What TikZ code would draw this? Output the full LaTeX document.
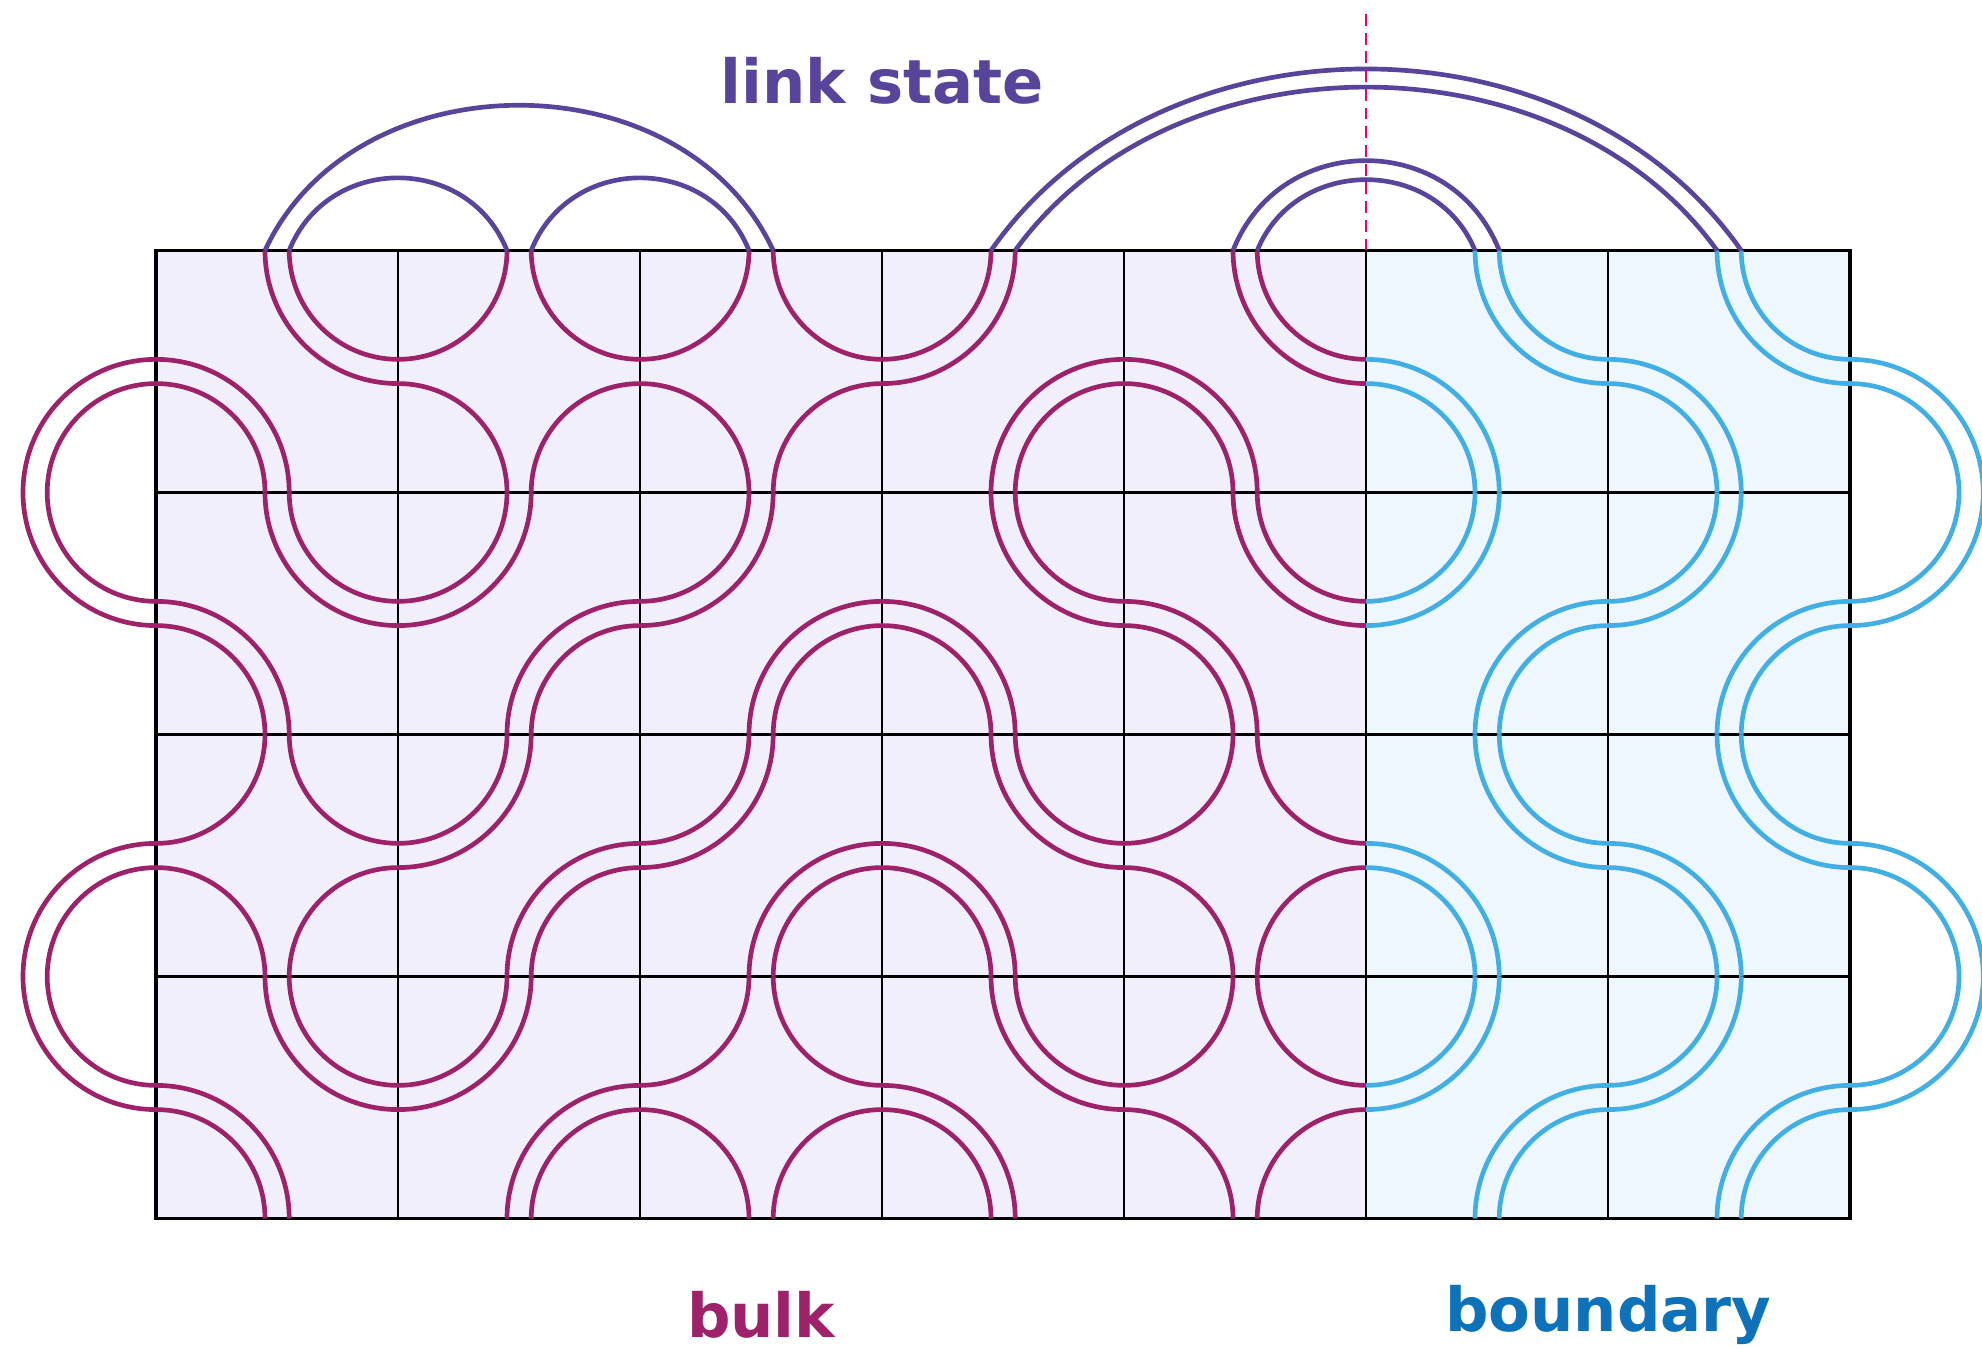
\documentclass[tikz,border=0pt]{standalone}
\usepackage{fontspec}
\usepackage{tikz}
\newfontfamily\lblfont{DejaVu Sans}
\definecolor{bulkink} {HTML}{9E226A}
\definecolor{bndink}  {HTML}{41AFE3}
\definecolor{linkink} {HTML}{59449B}
\definecolor{bndtext} {HTML}{0D72BA}
\definecolor{seam}    {HTML}{E6007E}
\definecolor{bulkfill}{HTML}{F1EFFB}
\definecolor{bndfill} {HTML}{EEF7FD}
\tikzset{
  % --- strands
  bk/.style   = {draw=bulkink, line width=1.1pt},
  bd/.style   = {draw=bndink, line width=1.1pt},
  lk/.style   = {draw=linkink, line width=1.1pt},
  % --- lattice
  cellline/.style   = {draw=black, line width=0.55pt},
  outerframe/.style = {draw=black, line width=0.8pt},
  seamline/.style   = {draw=seam, line width=0.5pt, dash pattern=on 2.8pt off 1.6pt},
  % --- labels
  lbl/.style  = {font=\lblfont\bfseries\fontsize{14.3}{17}\selectfont, inner sep=0pt},
}
% quarter arcs round a corner (small / big radius)
\newcommand{\sarc}[4]{\draw[#4] (#1,#2) ++(#3:0.9) arc[start angle=#3,delta angle=90,radius=0.9];}
\newcommand{\barc}[4]{\draw[#4] (#1,#2) ++(#3:1.1) arc[start angle=#3,delta angle=90,radius=1.1];}
% tiles: #1,#2 lower left corner, #3 strand style
\newcommand{\tileA}[3]{\sarc{#1}{#2+2}{-90}{#3}\barc{#1}{#2+2}{-90}{#3}\sarc{#1+2}{#2}{90}{#3}\barc{#1+2}{#2}{90}{#3}}
\newcommand{\tileB}[3]{\sarc{#1+2}{#2+2}{180}{#3}\barc{#1+2}{#2+2}{180}{#3}\sarc{#1}{#2}{0}{#3}\barc{#1}{#2}{0}{#3}}
\newcommand{\tileX}[3]{\sarc{#1}{#2+2}{-90}{#3}\sarc{#1+2}{#2+2}{180}{#3}\sarc{#1}{#2}{0}{#3}\sarc{#1+2}{#2}{90}{#3}}

\begin{document}
\begin{tikzpicture}
  \useasboundingbox (-1.29,-1.07) rectangle (15.09,10.07);
  % --- lattice
  \fill[bulkfill] (0,0) rectangle (10,8);
  \fill[bndfill] (10,0) rectangle (14,8);
  \draw[cellline, step=2] (0,0) grid (14,8);
  \draw[outerframe] (0,0) rectangle (14,8);
  % --- bulk tiles
  \tileB{0}{6}{bk} \tileX{2}{6}{bk} \tileX{4}{6}{bk} \tileA{6}{6}{bk} \tileB{8}{6}{bk}
  \tileB{0}{4}{bk} \tileA{2}{4}{bk} \tileA{4}{4}{bk} \tileB{6}{4}{bk} \tileB{8}{4}{bk}
  \tileX{0}{2}{bk} \tileA{2}{2}{bk} \tileA{4}{2}{bk} \tileB{6}{2}{bk} \tileX{8}{2}{bk}
  \tileB{0}{0}{bk} \tileA{2}{0}{bk} \tileX{4}{0}{bk} \tileB{6}{0}{bk} \tileX{8}{0}{bk}
  % --- boundary tiles
  \tileB{10}{6}{bd} \tileB{12}{6}{bd}
  \tileA{10}{4}{bd} \tileA{12}{4}{bd}
  \tileB{10}{2}{bd} \tileB{12}{2}{bd}
  \tileA{10}{0}{bd} \tileA{12}{0}{bd}
  % --- closures left and right
  \draw[bk] (0,6) ++(90:0.9) arc[start angle=90,end angle=270,radius=0.9];
  \draw[bk] (0,6) ++(90:1.1) arc[start angle=90,end angle=270,radius=1.1];
  \draw[bk] (0,2) ++(90:0.9) arc[start angle=90,end angle=270,radius=0.9];
  \draw[bk] (0,2) ++(90:1.1) arc[start angle=90,end angle=270,radius=1.1];
  \draw[bd] (14,6) ++(-90:0.9) arc[start angle=-90,end angle=90,radius=0.9];
  \draw[bd] (14,6) ++(-90:1.1) arc[start angle=-90,end angle=90,radius=1.1];
  \draw[bd] (14,2) ++(-90:0.9) arc[start angle=-90,end angle=90,radius=0.9];
  \draw[bd] (14,2) ++(-90:1.1) arc[start angle=-90,end angle=90,radius=1.1];
  % --- link state
  \coordinate (t0a) at (0.9,8);  \coordinate (t0b) at (1.1,8);
  \coordinate (t1a) at (2.9,8);  \coordinate (t1b) at (3.1,8);
  \coordinate (t2a) at (4.9,8);  \coordinate (t2b) at (5.1,8);
  \coordinate (t3a) at (6.9,8);  \coordinate (t3b) at (7.1,8);
  \coordinate (t4a) at (8.9,8);  \coordinate (t4b) at (9.1,8);
  \coordinate (t5a) at (10.9,8); \coordinate (t5b) at (11.1,8);
  \coordinate (t6a) at (12.9,8); \coordinate (t6b) at (13.1,8);
  \draw[lk] (t0a) .. controls +(0.74,1.6) and +(-0.74,1.6) .. (t2b);
  \draw[lk] (t0b) .. controls +(0.32,0.8) and +(-0.32,0.8) .. (t1a);
  \draw[lk] (t1b) .. controls +(0.32,0.8) and +(-0.32,0.8) .. (t2a);
  \draw[lk] (t3a) .. controls +(1.4,2.0) and +(-1.4,2.0) .. (t6b);
  \draw[lk] (t3b) .. controls +(1.3,1.8) and +(-1.3,1.8) .. (t6a);
  \draw[lk] (t4a) .. controls +(0.39,0.99) and +(-0.39,0.99) .. (t5b);
  \draw[lk] (t4b) .. controls +(0.32,0.78) and +(-0.32,0.78) .. (t5a);
  \coordinate (seamtop) at (10,10);
  \draw[seamline] (10,8) -- (seamtop);
  % --- labels
  \node[lbl, text=linkink] (linklbl) at (6,9.4) {link state};
  \node[lbl, text=bulkink] (bulklbl) at (5,-0.8) {bulk};
  \node[lbl, text=bndtext] (bndlbl) at (12,-0.8) {boundary};
\end{tikzpicture}
\end{document}
